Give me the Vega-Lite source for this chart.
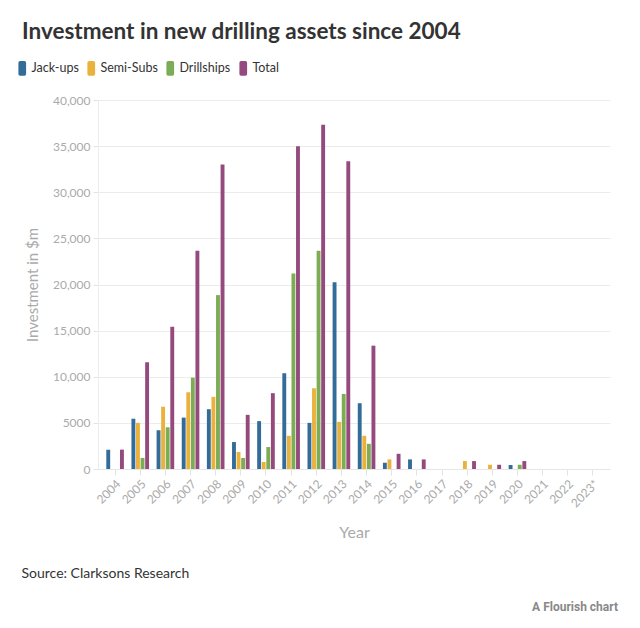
{
  "$schema": "https://vega.github.io/schema/vega-lite/v6.json",
  "background": "white",
  "padding": {"left": 16, "top": 20, "right": 10, "bottom": 4},
  "config": {
    "font": "Lato",
    "view": {"stroke": null},
    "title": {"font": "Lato", "color": "#333333"}
  },
  "title": {
    "text": "Investment in new drilling assets since 2004",
    "anchor": "start",
    "fontSize": 22.5,
    "fontWeight": "bold",
    "color": "#333333",
    "offset": 19,
    "dx": 6
  },
  "datasets": {
    "invest": [
      {"Year": "2004", "Type": "Jack-ups", "Value": 2100},
      {"Year": "2004", "Type": "Total", "Value": 2100},
      {"Year": "2005", "Type": "Jack-ups", "Value": 5450},
      {"Year": "2005", "Type": "Semi-Subs", "Value": 5000},
      {"Year": "2005", "Type": "Drillships", "Value": 1200},
      {"Year": "2005", "Type": "Total", "Value": 11570},
      {"Year": "2006", "Type": "Jack-ups", "Value": 4200},
      {"Year": "2006", "Type": "Semi-Subs", "Value": 6750},
      {"Year": "2006", "Type": "Drillships", "Value": 4520},
      {"Year": "2006", "Type": "Total", "Value": 15420},
      {"Year": "2007", "Type": "Jack-ups", "Value": 5570},
      {"Year": "2007", "Type": "Semi-Subs", "Value": 8320},
      {"Year": "2007", "Type": "Drillships", "Value": 9900},
      {"Year": "2007", "Type": "Total", "Value": 23650},
      {"Year": "2008", "Type": "Jack-ups", "Value": 6480},
      {"Year": "2008", "Type": "Semi-Subs", "Value": 7820},
      {"Year": "2008", "Type": "Drillships", "Value": 18850},
      {"Year": "2008", "Type": "Total", "Value": 33000},
      {"Year": "2009", "Type": "Jack-ups", "Value": 2920},
      {"Year": "2009", "Type": "Semi-Subs", "Value": 1840},
      {"Year": "2009", "Type": "Drillships", "Value": 1190},
      {"Year": "2009", "Type": "Total", "Value": 5870},
      {"Year": "2010", "Type": "Jack-ups", "Value": 5190},
      {"Year": "2010", "Type": "Semi-Subs", "Value": 760},
      {"Year": "2010", "Type": "Drillships", "Value": 2380},
      {"Year": "2010", "Type": "Total", "Value": 8220},
      {"Year": "2011", "Type": "Jack-ups", "Value": 10380},
      {"Year": "2011", "Type": "Semi-Subs", "Value": 3600},
      {"Year": "2011", "Type": "Drillships", "Value": 21200},
      {"Year": "2011", "Type": "Total", "Value": 35000},
      {"Year": "2012", "Type": "Jack-ups", "Value": 5000},
      {"Year": "2012", "Type": "Semi-Subs", "Value": 8750},
      {"Year": "2012", "Type": "Drillships", "Value": 23650},
      {"Year": "2012", "Type": "Total", "Value": 37330},
      {"Year": "2013", "Type": "Jack-ups", "Value": 20250},
      {"Year": "2013", "Type": "Semi-Subs", "Value": 5110},
      {"Year": "2013", "Type": "Drillships", "Value": 8140},
      {"Year": "2013", "Type": "Total", "Value": 33350},
      {"Year": "2014", "Type": "Jack-ups", "Value": 7130},
      {"Year": "2014", "Type": "Semi-Subs", "Value": 3600},
      {"Year": "2014", "Type": "Drillships", "Value": 2730},
      {"Year": "2014", "Type": "Total", "Value": 13370},
      {"Year": "2015", "Type": "Jack-ups", "Value": 680},
      {"Year": "2015", "Type": "Semi-Subs", "Value": 1040},
      {"Year": "2015", "Type": "Total", "Value": 1650},
      {"Year": "2016", "Type": "Jack-ups", "Value": 1040},
      {"Year": "2016", "Type": "Total", "Value": 1040},
      {"Year": "2018", "Type": "Semi-Subs", "Value": 860},
      {"Year": "2018", "Type": "Total", "Value": 860},
      {"Year": "2019", "Type": "Semi-Subs", "Value": 460},
      {"Year": "2019", "Type": "Total", "Value": 460},
      {"Year": "2020", "Type": "Jack-ups", "Value": 430},
      {"Year": "2020", "Type": "Drillships", "Value": 460},
      {"Year": "2020", "Type": "Total", "Value": 860}
    ],
    "footer": []
  },
  "spacing": 19,
  "vconcat": [
    {
      "width": 512,
      "height": 369,
      "data": {"name": "invest"},
      "title": {
        "text": "Source: Clarksons Research",
        "orient": "bottom",
        "anchor": "start",
        "fontSize": 14,
        "fontWeight": "normal",
        "color": "#333333",
        "offset": 27,
        "dx": -4
      },
      "mark": {"type": "bar"},
      "encoding": {
        "x": {
          "field": "Year",
          "type": "nominal",
          "scale": {
            "domain": ["2004", "2005", "2006", "2007", "2008", "2009", "2010", "2011", "2012", "2013", "2014", "2015", "2016", "2017", "2018", "2019", "2020", "2021", "2022", "2023*"],
            "paddingInner": 0.3,
            "paddingOuter": 0.33
          },
          "axis": {
            "title": "Year",
            "titleColor": "#aaaaaa",
            "titleFontSize": 16,
            "titleFontWeight": "normal",
            "titlePadding": 15,
            "labelAngle": -45,
            "labelColor": "#aaaaaa",
            "labelFontSize": 12,
            "labelPadding": 3,
            "tickColor": "#e2e2e2",
            "tickSize": 6,
            "domainColor": "#e6e6e6",
            "grid": false
          }
        },
        "xOffset": {
          "field": "Type",
          "type": "nominal",
          "scale": {"domain": ["Jack-ups", "Semi-Subs", "Drillships", "Total"], "paddingInner": 0.15}
        },
        "y": {
          "field": "Value",
          "type": "quantitative",
          "scale": {"domain": [0, 40000], "nice": false},
          "axis": {
            "title": "Investment in $m",
            "titleColor": "#aaaaaa",
            "titleFontSize": 15,
            "titleFontWeight": "normal",
            "titlePadding": 12,
            "values": [0, 5000, 10000, 15000, 20000, 25000, 30000, 35000, 40000],
            "labelExpr": "datum.value >= 10000 ? format(datum.value, ',') : format(datum.value, 'd')",
            "labelColor": "#aaaaaa",
            "labelFontSize": 12,
            "labelPadding": 3,
            "tickColor": "#e2e2e2",
            "tickSize": 5,
            "domainColor": "#ececec",
            "gridColor": "#ececec"
          }
        },
        "color": {
          "field": "Type",
          "type": "nominal",
          "scale": {
            "domain": ["Jack-ups", "Semi-Subs", "Drillships", "Total"],
            "range": ["#336b99", "#eab13d", "#7cad55", "#944a7c"]
          },
          "legend": {
            "title": null,
            "orient": "none",
            "legendX": -82,
            "legendY": -38,
            "direction": "horizontal",
            "labelFontSize": 12.5,
            "labelColor": "#333333",
            "labelOffset": 3,
            "columnPadding": 6,
            "symbolType": "M-1.1,-1.6 Q-1.1,-2.1 -0.6,-2.1 L0.6,-2.1 Q1.1,-2.1 1.1,-1.6 L1.1,1.6 Q1.1,2.1 0.6,2.1 L-0.6,2.1 Q-1.1,2.1 -1.1,1.6 Z",
            "symbolSize": 49,
            "symbolStrokeWidth": 0,
            "symbolOpacity": 1
          }
        }
      }
    },
    {
      "width": 520,
      "height": 1,
      "data": {"name": "footer"},
      "title": {
        "text": "A Flourish chart",
        "orient": "top",
        "anchor": "end",
        "fontSize": 12,
        "fontWeight": "bold",
        "color": "#888888",
        "font": "Roboto",
        "offset": 0
      },
      "mark": {"type": "text"},
      "encoding": {}
    }
  ]
}
